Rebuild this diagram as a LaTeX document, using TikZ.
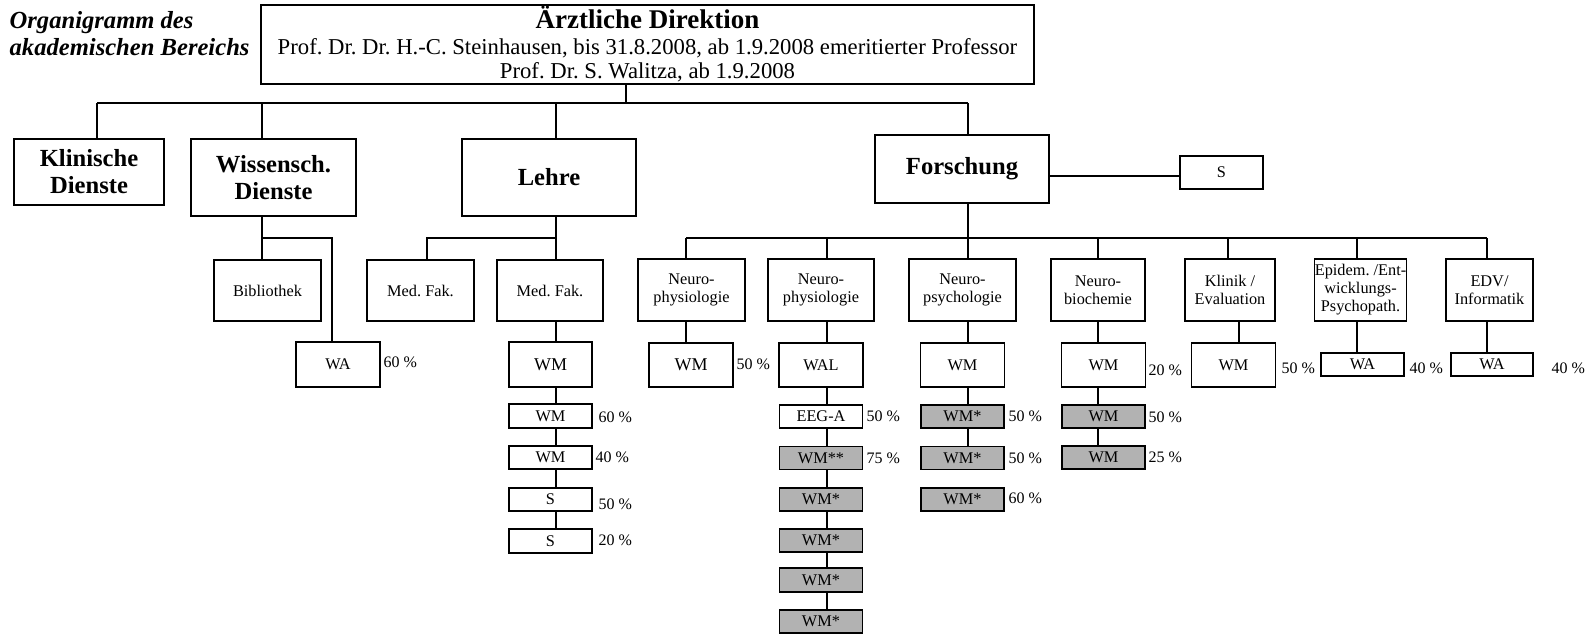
\documentclass[tikz,border=0pt]{standalone}
\usepackage{fontspec}
\setmainfont{Liberation Serif}
\frenchspacing
\definecolor{boxgray}{RGB}{178,178,178}

\begin{document}
\begin{tikzpicture}[x=1pt,y=-1pt,line width=1.3pt,
  box/.style={draw,inner sep=0pt,align=center,font=\fontsize{16.3}{18}\selectfont},
  headbox/.style={draw,inner sep=0pt,align=center,font=\fontsize{24.6}{27}\selectfont\bfseries},
  wbox/.style={box,minimum width=84pt,minimum height=44pt},
  sbox/.style={box,minimum width=83pt,minimum height=23pt},
  gbox/.style={sbox,fill=boxgray},
  pct/.style={anchor=west,inner sep=0pt,font=\fontsize{16}{18}\selectfont}]
\useasboundingbox (0,0) rectangle (1589,635);

% head
\node[anchor=west,align=left,inner sep=0pt,font=\fontsize{24.6}{27}\selectfont\bfseries\itshape] (ttl) at (9,33.5) {Organigramm des\\akademischen Bereichs};
\node[draw,inner sep=0pt,minimum width=773pt,minimum height=79pt,align=center,font=\fontsize{22.7}{24.5}\selectfont] (dir) at (647.5,44.5)
  {{\fontsize{27}{27}\selectfont\bfseries Ärztliche Direktion}\\[1pt]
   Prof. Dr. Dr. H.-C. Steinhausen, bis 31.8.2008, ab 1.9.2008 emeritierter Professor\\
   Prof. Dr. S. Walitza, ab 1.9.2008};

% first level
\node[headbox,minimum width=150pt,minimum height=66pt] (kd) at (89,172) {Klinische\\Dienste};
\node[headbox,minimum width=165pt,minimum height=77pt] (wd) at (273.5,177.5) {Wissensch.\\Dienste};
\node[headbox,minimum width=174pt,minimum height=77pt] (le) at (549,177.5) {Lehre};
\node[headbox,minimum width=174pt,minimum height=68pt] (fo) at (962,169) {Forschung};
\node[box,minimum width=83pt,minimum height=33pt] (fs) at (1221.5,172.5) {S};

\coordinate (top) at (626,103);
\coordinate (b1) at (97,103);
\coordinate (b2) at (262,103);
\coordinate (b3) at (556,103);
\coordinate (b4) at (968,103);
\coordinate (fsl) at (1100,176);
\draw (dir.south -| top) -- (top);
\draw (b1) -- (b4);
\foreach \b/\n in {b1/kd,b2/wd,b3/le,b4/fo}
  \draw (\b) -- (\b |- \n.north);
\draw (fsl -| fo.east) -- (fsl -| fs.west);

% Wissensch. Dienste
\node[box,minimum width=107pt,minimum height=61pt] (bib) at (267.5,290.5) {Bibliothek};
\node[box,minimum width=84pt,minimum height=45pt] (wa) at (338,364.5) {WA};
\node[pct] (wa-p) at (383,362) {60 \%};
\coordinate (w1) at (262,238);
\coordinate (w2) at (332,238);
\draw (wd.south -| w1) -- (w1) -- (w2) -- (w2 |- wa.north);
\draw (w1) -- (w1 |- bib.north);

% Lehre
\node[box,minimum width=107pt,minimum height=61pt] (mf1) at (420.5,290.5) {Med. Fak.};
\node[box,minimum width=106pt,minimum height=61pt] (mf2) at (550,290.5) {Med. Fak.};
\node[box,minimum width=83pt,minimum height=45pt,font=\fontsize{18}{20}\selectfont] (lwm) at (550.5,364.5) {WM};
\node[sbox,minimum height=24pt] (lwm1) at (550.5,416) {WM};
\node[sbox] (lwm2) at (550.5,457.5) {WM};
\node[sbox] (ls1) at (550.5,499.5) {S};
\node[sbox,minimum height=24pt] (ls2) at (550.5,541) {S};
\node[pct] (lwm1-p) at (598,417) {60 \%};
\node[pct] (lwm2-p) at (595,457) {40 \%};
\node[pct] (ls1-p) at (598,504) {50 \%};
\node[pct] (ls2-p) at (598,540) {20 \%};
\coordinate (l1) at (427,238);
\coordinate (l2) at (556,238);
\draw (le.south -| l2) -- (l2) -- (l1) -- (l1 |- mf1.north);
\draw (l2) -- (l2 |- mf2.north);
\foreach \a/\b in {mf2/lwm,lwm/lwm1,lwm1/lwm2,lwm2/ls1,ls1/ls2}
  \draw (\a.south -| l2) -- (\b.north -| l2);

% Forschung
\node[box,minimum width=107pt,minimum height=62pt] (n1) at (691.5,290) {Neuro-\\physiologie};
\node[box,minimum width=106pt,minimum height=62pt] (n2) at (821,290) {Neuro-\\physiologie};
\node[box,minimum width=107pt,minimum height=62pt] (n3) at (962.5,290) {Neuro-\\psychologie};
\node[box,minimum width=94pt,minimum height=62pt] (n4) at (1098,290) {Neuro-\\biochemie};
\node[box,minimum width=90pt,minimum height=62pt] (n5) at (1230,290) {Klinik /\\Evaluation};
\node[box,minimum width=87pt,minimum height=62pt] (n6) at (1360.5,290) {Epidem. /Ent-\\wicklungs-\\Psychopath.};
\node[box,minimum width=87pt,minimum height=62pt] (n7) at (1489.5,290) {EDV/\\Informatik};

\node[wbox,font=\fontsize{18}{20}\selectfont] (n1a) at (691,365) {WM};
\node[wbox] (n2a) at (821,365) {WAL};
\node[sbox] (n2b) at (821,416.5) {EEG-A};
\node[gbox] (n2c) at (821,458) {WM**};
\node[gbox] (n2d) at (821,499.5) {WM*};
\node[gbox] (n2e) at (821,540.5) {WM*};
\node[gbox,minimum height=24pt] (n2f) at (821,580) {WM*};
\node[gbox] (n2g) at (821,621.5) {WM*};
\node[wbox] (n3a) at (962.5,365) {WM};
\node[gbox] (n3b) at (962.5,416.5) {WM*};
\node[gbox] (n3c) at (962.5,458) {WM*};
\node[gbox] (n3d) at (962.5,499.5) {WM*};
\node[wbox] (n4a) at (1103.5,365) {WM};
\node[gbox] (n4b) at (1103.5,416.5) {WM};
\node[gbox] (n4c) at (1103.5,457.5) {WM};
\node[wbox] (n5a) at (1233.5,365) {WM};
\node[sbox] (n6a) at (1362.5,364.5) {WA};
\node[sbox,minimum width=82pt] (n7a) at (1492,364.5) {WA};

\node[pct] (n1a-p) at (736,364) {50 \%};
\node[pct] (n2b-p) at (866,416) {50 \%};
\node[pct] (n2c-p) at (866,458) {75 \%};
\node[pct] (n3b-p) at (1008,416) {50 \%};
\node[pct] (n3c-p) at (1008,458) {50 \%};
\node[pct] (n3d-p) at (1008,498) {60 \%};
\node[pct] (n4a-p) at (1148,370) {20 \%};
\node[pct] (n4b-p) at (1148,417) {50 \%};
\node[pct] (n4c-p) at (1148,457) {25 \%};
\node[pct] (n5a-p) at (1281,368) {50 \%};
\node[pct] (n6a-p) at (1409,368) {40 \%};
\node[pct] (n7a-p) at (1551,368) {40 \%};

\coordinate (f0) at (968,238);
\coordinate (f1) at (686,238);
\coordinate (f2) at (827,238);
\coordinate (f3) at (968,238);
\coordinate (f4) at (1098,238);
\coordinate (f5) at (1228,238);
\coordinate (f6) at (1357,238);
\coordinate (f7) at (1487,238);
\coordinate (k5) at (1239,330);
\draw (fo.south -| f0) -- (f0);
\draw (f1) -- (f7);
\foreach \i in {1,...,7}
  \draw (f\i) -- (f\i |- n\i.north);
\foreach \a/\b/\c in {n1/n1a/f1,n2/n2a/f2,n2a/n2b/f2,n2b/n2c/f2,n2c/n2d/f2,n2d/n2e/f2,
    n2e/n2f/f2,n2f/n2g/f2,n3/n3a/f3,n3a/n3b/f3,n3b/n3c/f3,n4/n4a/f4,n4a/n4b/f4,
    n4b/n4c/f4,n5/n5a/k5,n6/n6a/f6,n7/n7a/f7}
  \draw (\a.south -| \c) -- (\b.north -| \c);
\end{tikzpicture}
\end{document}
